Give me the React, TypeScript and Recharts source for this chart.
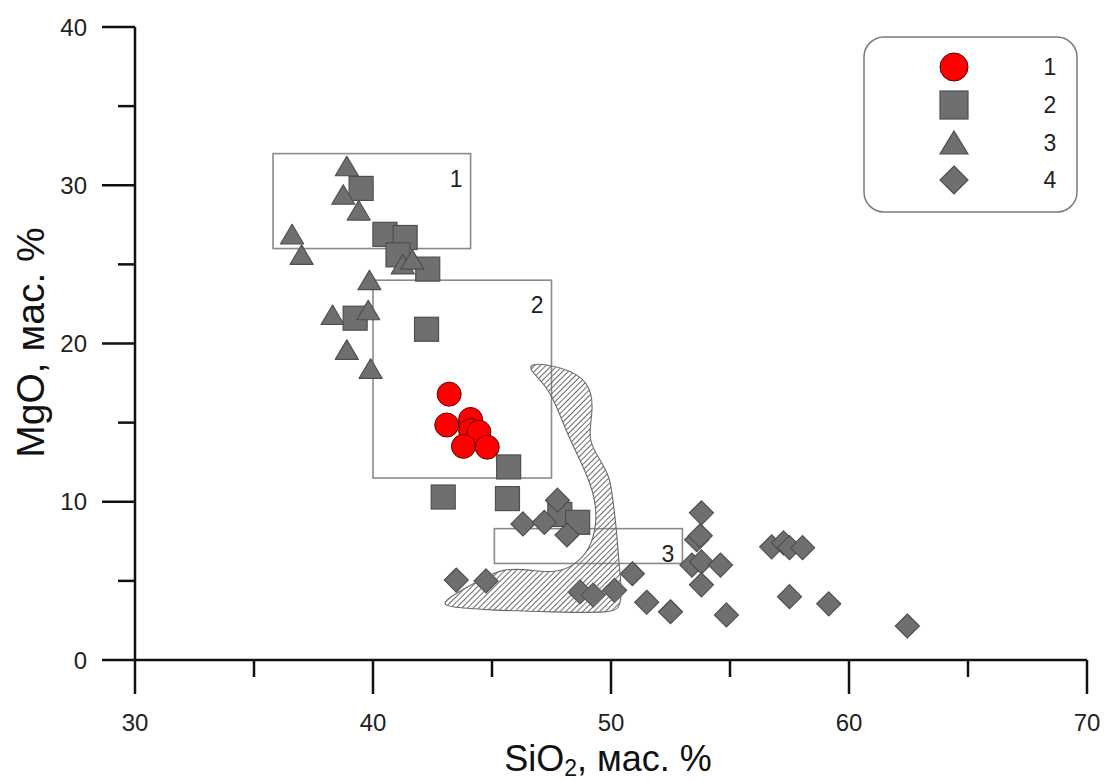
import React from 'react';
import { ScatterChart, Scatter, XAxis, YAxis, ReferenceArea, Legend, Label } from 'recharts';

const FONT = '"Liberation Sans", Arial, Helvetica, sans-serif';

// Axis ticks
const xTicks = [30, 35, 40, 45, 50, 55, 60, 65, 70];
const yTicks = [0, 5, 10, 15, 20, 25, 30, 35, 40];

// Series 1 (red circles)
const g1Si = [43.2, 43.1, 44.1, 44.1, 44.45, 43.8, 44.8];
const g1Mg = [16.8, 14.85, 15.2, 14.5, 14.4, 13.5, 13.45];

// Series 2 (squares)
const g2Si = [39.5, 40.5, 41.35, 41.05, 42.3, 39.25, 42.25, 45.7, 42.95, 45.65, 47.85, 48.6];
const g2Mg = [29.8, 26.9, 26.7, 25.6, 24.7, 21.6, 20.9, 12.2, 10.3, 10.2, 9.2, 8.7];

// Series 3 (triangles)
const g3Si = [38.9, 38.75, 39.4, 36.6, 37.0, 41.25, 41.65, 39.85, 38.3, 39.8, 38.9, 39.9];
const g3Mg = [31.2, 29.4, 28.4, 26.9, 25.6, 25.0, 25.3, 24.0, 21.8, 22.1, 19.6, 18.4];

// Series 4 (diamonds)
const g4Si = [47.75, 46.3, 47.2, 48.15, 43.5, 44.75, 48.7, 49.25, 50.15, 50.9, 51.5, 52.5, 53.8, 53.6, 53.75, 53.4, 53.8, 54.6, 53.8, 54.85, 56.75, 57.25, 57.5, 58.05, 57.5, 59.15, 62.45];
const g4Mg = [10.1, 8.6, 8.7, 7.9, 5.05, 5.0, 4.3, 4.1, 4.4, 5.45, 3.65, 3.05, 9.3, 7.6, 7.85, 6.0, 6.2, 6.0, 4.75, 2.85, 7.15, 7.4, 7.1, 7.1, 4.0, 3.55, 2.15];

// Field boxes
const boxLabels = ['1', '2', '3'];
const boxSiMin = [35.8, 40.0, 45.1];
const boxSiMax = [44.1, 47.5, 53.0];
const boxMgMin = [26.0, 11.5, 6.1];
const boxMgMax = [32.0, 24.0, 8.3];

// Hatched field outline
const hatchSi = [46.51, 47.14, 48.7, 49.24, 49.2, 49.03, 49.54, 49.96, 50.08, 50.25, 50.34, 50.46, 50.38, 50.08, 47.56, 44.79, 43.11, 42.94, 43.36, 44.5, 45.46, 46.6, 47.56, 48.4, 49.12, 49.41, 49.33, 49.12, 48.7, 48.15, 47.73, 47.31, 46.72];
const hatchMg = [18.64, 18.77, 18.14, 16.87, 15.36, 13.9, 12.64, 11.56, 10.11, 8.03, 5.88, 4.42, 3.35, 2.97, 3.03, 3.16, 3.35, 3.6, 4.11, 5.06, 5.81, 5.69, 5.5, 5.88, 6.95, 8.66, 10.11, 11.18, 12.64, 14.34, 15.99, 17.25, 18.14];

const legendLabels = ['1', '2', '3', '4'];

const toPts = (xs: number[], ys: number[]) => xs.map((x, i) => ({ x, y: ys[i] }));
const g1 = toPts(g1Si, g1Mg);
const g2 = toPts(g2Si, g2Mg);
const g3 = toPts(g3Si, g3Mg);
const g4 = toPts(g4Si, g4Mg);
const hatch = toPts(hatchSi, hatchMg);

const GRAY = '#6f6f6f';
const GRAY_STROKE = '#4e4e4e';
const AXIS = '#111';

const CircleShape = (p: any) => (
  <circle cx={p.cx} cy={p.cy} r={12} fill="#ff0000" stroke="#5a0000" strokeWidth={1} />
);
const SquareShape = (p: any) => (
  <rect x={p.cx - 12} y={p.cy - 12} width={24} height={24} fill={GRAY} stroke={GRAY_STROKE} strokeWidth={1.2} />
);
const TriangleShape = (p: any) => (
  <polygon
    points={`${p.cx},${p.cy - 10} ${p.cx + 11.5},${p.cy + 9.5} ${p.cx - 11.5},${p.cy + 9.5}`}
    fill={GRAY}
    stroke={GRAY_STROKE}
    strokeWidth={1.2}
    strokeLinejoin="round"
  />
);
const DiamondShape = (p: any) => (
  <polygon
    points={`${p.cx},${p.cy - 12} ${p.cx + 12},${p.cy} ${p.cx},${p.cy + 12} ${p.cx - 12},${p.cy}`}
    fill={GRAY}
    stroke={GRAY_STROKE}
    strokeWidth={1.2}
  />
);
const NoShape = () => <g />;

const XTick = (props: any) => {
  const { x, y, payload } = props;
  const major = payload.value % 10 === 0;
  return (
    <g>
      <line x1={x} y1={y} x2={x} y2={y + (major ? 34 : 17)} stroke={AXIS} strokeWidth={2.5} />
      {major && (
        <text x={x} y={y + 71} textAnchor="middle" fontSize={24} fontFamily={FONT} fill="#222">
          {payload.value}
        </text>
      )}
    </g>
  );
};

const YTick = (props: any) => {
  const { x, y, payload } = props;
  const major = payload.value % 10 === 0;
  return (
    <g>
      <line x1={x - (major ? 33 : 17)} y1={y} x2={x} y2={y} stroke={AXIS} strokeWidth={2.5} />
      {major && (
        <text x={x - 48} y={y + 8.5} textAnchor="end" fontSize={24} fontFamily={FONT} fill="#222">
          {payload.value}
        </text>
      )}
    </g>
  );
};

const XTitle = (props: any) => {
  const vb = props.viewBox || { x: 135, y: 660, width: 952, height: 60 };
  const cx = vb.x + vb.width / 2 - 3;
  return (
    <text x={cx} y={vb.y + 111} textAnchor="middle" fontSize={36} fontFamily={FONT} fill="#111">
      <tspan>SiO</tspan>
      <tspan dy={5} fontSize={23}>2</tspan>
      <tspan dy={-5}>, мас. %</tspan>
    </text>
  );
};

const YTitle = (props: any) => {
  const vb = props.viewBox || { x: 75, y: 27, width: 60, height: 633 };
  const bx = 44;
  const cy = vb.y + vb.height / 2 - 1;
  return (
    <text
      x={bx}
      y={cy}
      transform={`rotate(-90, ${bx}, ${cy})`}
      textAnchor="middle"
      fontSize={39}
      fontFamily={FONT}
      fill="#111"
    >
      MgO, мас. %
    </text>
  );
};

const makeBoxShape = (label: string, withDefs: boolean) => (p: any) => (
  <g>
    {withDefs && (
      <defs>
        <pattern id="hatchPat" width={4} height={4} patternUnits="userSpaceOnUse" patternTransform="rotate(45)">
          <line x1={0.5} y1={0} x2={0.5} y2={4} stroke="#6a6a6a" strokeWidth={1} />
        </pattern>
      </defs>
    )}
    <rect x={p.x} y={p.y} width={p.width} height={p.height} fill="none" stroke="#8a8a8a" strokeWidth={1.6} />
    <text x={p.x + p.width - 8} y={p.y + 33} textAnchor="end" fontSize={23} fontFamily={FONT} fill="#222">
      {label}
    </text>
  </g>
);

const LegendBox = () => {
  const sx = 91;
  const rows = [31, 69, 107, 144];
  return (
    <svg width={216} height={178} style={{ display: 'block' }}>
      <rect x={1} y={1} width={213} height={175} rx={20} ry={20} fill="#fff" stroke="#7a7a7a" strokeWidth={1.5} />
      <circle cx={sx} cy={rows[0]} r={14} fill="#ff0000" stroke="#5a0000" strokeWidth={1} />
      <rect x={sx - 14} y={rows[1] - 14} width={28} height={28} fill={GRAY} stroke={GRAY_STROKE} strokeWidth={1.2} />
      <polygon
        points={`${sx},${rows[2] - 12} ${sx + 14},${rows[2] + 11} ${sx - 14},${rows[2] + 11}`}
        fill={GRAY}
        stroke={GRAY_STROKE}
        strokeWidth={1.2}
      />
      <polygon
        points={`${sx},${rows[3] - 14} ${sx + 14},${rows[3]} ${sx},${rows[3] + 14} ${sx - 14},${rows[3]}`}
        fill={GRAY}
        stroke={GRAY_STROKE}
        strokeWidth={1.2}
      />
      {legendLabels.map((l, i) => (
        <text key={l} x={187} y={rows[i] + 8} textAnchor="middle" fontSize={23} fontFamily={FONT} fill="#222">
          {l}
        </text>
      ))}
    </svg>
  );
};

export default function App() {
  return (
    <div style={{ position: 'fixed', left: 0, top: 0, width: 1104, height: 781, background: '#fff' }}>
      <ScatterChart width={1104} height={781} margin={{ top: 27, right: 17, bottom: 61, left: 75 }}>
        <XAxis
          type="number"
          dataKey="x"
          domain={[30, 70]}
          ticks={xTicks}
          interval={0}
          allowDataOverflow
          tickSize={0}
          tickMargin={0}
          tickLine={false}
          axisLine={{ stroke: AXIS, strokeWidth: 2.5 }}
          tick={<XTick />}
          height={60}
        >
          <Label content={<XTitle />} />
        </XAxis>
        <YAxis
          type="number"
          dataKey="y"
          domain={[0, 40]}
          ticks={yTicks}
          interval={0}
          allowDataOverflow
          tickSize={0}
          tickMargin={0}
          tickLine={false}
          axisLine={{ stroke: AXIS, strokeWidth: 2.5 }}
          tick={<YTick />}
          width={60}
        >
          <Label content={<YTitle />} />
        </YAxis>
        {boxLabels.map((l, i) => (
          <ReferenceArea
            key={'box' + l}
            x1={boxSiMin[i]}
            x2={boxSiMax[i]}
            y1={boxMgMin[i]}
            y2={boxMgMax[i]}
            shape={makeBoxShape(l, i === 0)}
          />
        ))}
        <Scatter name="2" data={g2} shape={SquareShape} isAnimationActive={false} />
        <Scatter name="3" data={g3} shape={TriangleShape} isAnimationActive={false} />
        <Scatter name="4" data={g4} shape={DiamondShape} isAnimationActive={false} />
        <Scatter name="1" data={g1} shape={CircleShape} isAnimationActive={false} />
        <Scatter
          name="field"
          data={hatch}
          shape={NoShape}
          line={{ fill: 'url(#hatchPat)', stroke: '#6a6a6a', strokeWidth: 1.1 }}
          lineType="joint"
          lineJointType="basisClosed"
          legendType="none"
          isAnimationActive={false}
        />
        <Legend
          layout="horizontal"
          align="center"
          verticalAlign="middle"
          wrapperStyle={{ position: 'absolute', top: 36, left: 863, width: 216, height: 178 }}
          content={<LegendBox />}
        />
      </ScatterChart>
    </div>
  );
}
